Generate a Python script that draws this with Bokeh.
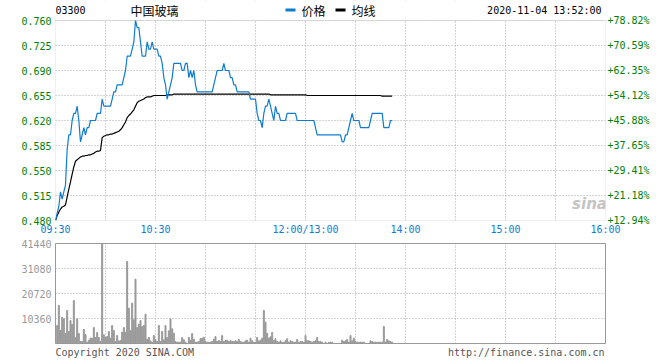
from bokeh.plotting import figure
from bokeh.models import (Range1d, LinearAxis, FixedTicker, Label, PrintfTickFormatter,
                          BoxAnnotation)
from bokeh.core.properties import value
from bokeh.layouts import column
from bokeh.embed import file_html
from bokeh.resources import INLINE

# ---------------- data ----------------
stock_code = "03300"
stock_name = "中国玻璃"
timestamp = "2020-11-04 13:52:00"
prev_close = 0.425
session_minutes = 330
time_ticks = [0, 60, 150, 210, 270, 330]
time_labels = ["09:30", "10:30", "12:00/13:00", "14:00", "15:00", "16:00"]
legend_labels = ["价格", "均线"]
copyright_text = "Copyright 2020 SINA.COM"
url_text = "http://finance.sina.com.cn"

price = [
    0.48, 0.49, 0.50, 0.52, 0.51, 0.52, 0.53, 0.58, 0.60, 0.60,
    0.62, 0.63, 0.63, 0.64, 0.62, 0.59, 0.60, 0.61, 0.60, 0.61,
    0.61, 0.62, 0.62, 0.62, 0.62, 0.63, 0.63, 0.63, 0.65, 0.64,
    0.64, 0.64, 0.64, 0.64, 0.65, 0.66, 0.66, 0.67, 0.67, 0.67,
    0.67, 0.68, 0.69, 0.71, 0.71, 0.71, 0.72, 0.73, 0.76, 0.75,
    0.75, 0.73, 0.71, 0.71, 0.71, 0.73, 0.72, 0.72, 0.73, 0.72,
    0.72, 0.72, 0.71, 0.71, 0.70, 0.68, 0.67, 0.65, 0.66, 0.67,
    0.68, 0.70, 0.70, 0.70, 0.70, 0.70, 0.69, 0.69, 0.70, 0.70,
    0.68, 0.69, 0.68, 0.69, 0.67, 0.66, 0.66, 0.66, 0.66, 0.66,
    0.66, 0.66, 0.66, 0.66, 0.66, 0.67, 0.68, 0.69, 0.69, 0.69,
    0.69, 0.70, 0.69, 0.69, 0.69, 0.68, 0.68, 0.67, 0.67, 0.66,
    0.66, 0.66, 0.66, 0.66, 0.66, 0.66, 0.66, 0.65, 0.65, 0.65,
    0.65, 0.63, 0.62, 0.62, 0.61, 0.63, 0.64, 0.64, 0.65, 0.64,
    0.63, 0.62, 0.64, 0.63, 0.63, 0.62, 0.62, 0.62, 0.62, 0.63,
    0.63, 0.63, 0.63, 0.63, 0.63, 0.62, 0.62, 0.62, 0.62, 0.62,
    0.62, 0.62, 0.62, 0.62, 0.62, 0.62, 0.61, 0.60, 0.60, 0.60,
    0.60, 0.60, 0.60, 0.60, 0.60, 0.60, 0.60, 0.60, 0.60, 0.60,
    0.60, 0.60, 0.59, 0.59, 0.60, 0.60, 0.61, 0.62, 0.63, 0.62,
    0.62, 0.62, 0.62, 0.61, 0.61, 0.61, 0.61, 0.61, 0.61, 0.62,
    0.63, 0.63, 0.63, 0.63, 0.63, 0.63, 0.63, 0.61, 0.61, 0.61,
    0.61, 0.62, 0.62,
]

avg_price = [
    0.480, 0.487, 0.492, 0.496, 0.499, 0.500, 0.502, 0.513, 0.524, 0.534,
    0.545, 0.555, 0.563, 0.565, 0.567, 0.569, 0.570, 0.570, 0.571, 0.571,
    0.572, 0.572, 0.573, 0.574, 0.576, 0.577, 0.577, 0.578, 0.596, 0.598,
    0.599, 0.600, 0.600, 0.601, 0.601, 0.602, 0.603, 0.604, 0.605, 0.607,
    0.610, 0.614, 0.618, 0.624, 0.627, 0.629, 0.632, 0.635, 0.640, 0.645,
    0.647, 0.648, 0.649, 0.650, 0.652, 0.653, 0.653, 0.653, 0.654, 0.655,
    0.655, 0.655, 0.655, 0.655, 0.655, 0.655, 0.655, 0.656, 0.656, 0.656,
    0.656, 0.657, 0.657, 0.657, 0.657, 0.657, 0.657, 0.657, 0.657, 0.657,
    0.657, 0.657, 0.657, 0.657, 0.657, 0.657, 0.657, 0.657, 0.657, 0.657,
    0.657, 0.657, 0.657, 0.657, 0.657, 0.657, 0.657, 0.657, 0.657, 0.657,
    0.657, 0.657, 0.657, 0.657, 0.657, 0.657, 0.657, 0.657, 0.657, 0.657,
    0.657, 0.657, 0.657, 0.657, 0.657, 0.657, 0.657, 0.657, 0.657, 0.657,
    0.657, 0.657, 0.657, 0.657, 0.657, 0.657, 0.657, 0.657, 0.657, 0.656,
    0.656, 0.656, 0.656, 0.656, 0.656, 0.656, 0.656, 0.656, 0.656, 0.656,
    0.656, 0.656, 0.656, 0.656, 0.656, 0.656, 0.656, 0.656, 0.656, 0.656,
    0.656, 0.655, 0.655, 0.655, 0.655, 0.655, 0.655, 0.655, 0.655, 0.655,
    0.655, 0.655, 0.655, 0.655, 0.655, 0.655, 0.655, 0.655, 0.655, 0.655,
    0.655, 0.655, 0.655, 0.655, 0.655, 0.655, 0.655, 0.655, 0.655, 0.655,
    0.655, 0.655, 0.655, 0.655, 0.655, 0.655, 0.655, 0.655, 0.655, 0.655,
    0.655, 0.655, 0.655, 0.655, 0.655, 0.655, 0.654, 0.654, 0.654, 0.654,
    0.654, 0.654, 0.654,
]

volume = [
    0,
    7460, 15750, 5390, 10770, 10220, 4140, 13680, 4970, 9530, 7870,
    17820, 2350, 10220, 4140, 830, 830, 5800, 3730, 550, 1380,
    2210, 2210, 6630, 2490, 4560, 2490, 830, 41440, 3590, 2490,
    2900, 4970, 2210, 7460, 5390, 830, 3310, 1100, 1240, 4700,
    6630, 4700, 33980, 14640, 5250, 16710, 9810, 26660, 6630, 8010,
    9530, 7040, 7460, 12160, 1800, 2490, 1100, 550, 3310, 1520,
    830, 7460, 830, 4970, 1520, 7460, 2490, 5250, 10220, 6080,
    4280, 830, 550, 550, 550, 2490, 1520, 550, 0, 2490,
    1240, 4140, 1800, 550, 550, 830, 2070, 2210, 2620, 830,
    550, 550, 550, 830, 1800, 2900, 830, 1240, 830, 3310,
    830, 1240, 1380, 830, 1240, 830, 830, 1100, 830, 1660,
    830, 550, 550, 1100, 1380, 550, 2210, 1100, 550, 550,
    2490, 1100, 1380, 2210, 13680, 8840, 4280, 2210, 2760, 4560,
    1240, 1930, 830, 550, 1100, 550, 550, 1100, 1930, 550,
    1100, 830, 550, 550, 1660, 550, 830, 830, 550, 3310,
    1240, 1100, 830, 550, 830, 1100, 2490, 830, 830, 550,
    0, 550, 0, 550, 550, 550, 0, 0, 0, 0,
    0, 1380, 830, 1100, 1660, 550, 3310, 1100, 2210, 830,
    550, 550, 550, 550, 550, 0, 0, 0, 1100, 830,
    550, 550, 550, 550, 550, 550, 7040, 550, 1660, 1100,
    830, 550,
]

minutes = list(range(len(price)))

# ---------------- style ----------------
MONO = "DejaVu Sans Mono"
CJK = "Noto Sans CJK SC"
BLUE = "#0f7ccf"
GREEN = "#008000"
GRAY_TXT = "#999999"
GRID = "#a8a8a8"
BORDER = "#999999"
BAR = "#999999"

pmin, pmax = min(price), max(price)
pstep = (pmax - pmin) / 8
price_ticks = [pmin + i * pstep for i in range(9)]
pct_min = (pmin / prev_close - 1) * 100
pct_max = (pmax / prev_close - 1) * 100
vmax = max(volume)
vol_ticks = [vmax * i / 4 for i in range(1, 5)]
grid_x = list(range(0, session_minutes + 1, 30))

FW, FH1, FH2 = 550, 200, 100
LEFT, RIGHT = 55, 55
HDR = 20          # header band (px) kept inside the price figure's frame
FOOT_H = 19

upp = (pmax - pmin) / FH1          # price units per pixel
ytop = pmax + HDR * upp            # frame top includes header band
pct_top = (ytop / prev_close - 1) * 100
pct_ticks = [(t / prev_close - 1) * 100 for t in price_ticks]


def sx(img_x):
    # page pixel -> minute index (layout helper for header items)
    return (img_x - LEFT) * session_minutes / FW


def style_axis(ax, color):
    ax.axis_line_color = None
    ax.major_tick_line_color = None
    ax.minor_tick_line_color = None
    ax.major_tick_out = 0
    ax.major_tick_in = 0
    ax.major_label_text_font = MONO
    ax.major_label_text_font_size = "10px"
    ax.major_label_text_color = color


def style_grid(g):
    g.grid_line_color = GRID
    g.grid_line_dash = "1 2"
    g.grid_line_width = 1


# ---------------- price chart (with header band) ----------------
p = figure(frame_width=FW, frame_height=FH1 + HDR, output_backend="svg", toolbar_location=None,
           x_range=Range1d(0, session_minutes), y_range=Range1d(pmin, ytop),
           min_border_left=LEFT, min_border_right=RIGHT, min_border_top=0,
           min_border_bottom=14)
p.background_fill_color = "white"
p.border_fill_color = "white"
p.outline_line_color = None

p.xaxis.ticker = FixedTicker(ticks=time_ticks)
p.xaxis.major_label_overrides = {t: l for t, l in zip(time_ticks, time_labels)}
style_axis(p.xaxis[0], BLUE)
p.xaxis.major_label_standoff = 3

p.yaxis.ticker = FixedTicker(ticks=price_ticks)
p.yaxis.formatter = PrintfTickFormatter(format="%.3f")
style_axis(p.yaxis[0], GREEN)
p.yaxis.major_label_standoff = 4

p.extra_y_ranges = {"pct": Range1d(pct_min, pct_top)}
ax_r = LinearAxis(y_range_name="pct", ticker=FixedTicker(ticks=pct_ticks),
                  formatter=PrintfTickFormatter(format="+%.2f%%"))
style_axis(ax_r, GREEN)
ax_r.major_label_standoff = 2
p.add_layout(ax_r, "right")

p.xgrid.ticker = FixedTicker(ticks=grid_x)
p.ygrid.ticker = FixedTicker(ticks=price_ticks)
style_grid(p.xgrid[0])
style_grid(p.ygrid[0])

# blank the header band (hides grid there) and draw the chart border
p.add_layout(BoxAnnotation(bottom=pmax, fill_color="white", fill_alpha=1,
                           line_color=None, level="underlay"))
p.add_layout(BoxAnnotation(left=0, right=session_minutes, bottom=pmin, top=pmax,
                           fill_alpha=0, line_color=BORDER, line_width=1, level="underlay"))

p.line(minutes, avg_price, line_color="black", line_width=1.2)
p.line(minutes, price, line_color=BLUE, line_width=1.2)

# header items
hy = pmax + (HDR - 9.5) * upp
p.text(x=[sx(55)], y=[hy], text=[stock_code], text_font=value(MONO), text_font_size="10px",
       text_baseline="middle", text_align="left", text_color="black")
p.text(x=[sx(130)], y=[hy], text=[stock_name], text_font=value(CJK), text_font_size="12px",
       text_baseline="middle", text_align="left", text_color="black")
p.segment(x0=[sx(285), sx(335)], y0=[hy, hy], x1=[sx(295), sx(345)], y1=[hy, hy],
          line_color=[BLUE, "black"], line_width=3)
p.text(x=[sx(301), sx(351)], y=[hy, hy], text=legend_labels, text_font=value(CJK),
       text_font_size="12px", text_baseline="middle", text_align="left", text_color="black")
p.text(x=[sx(601)], y=[hy], text=[timestamp], text_font=value(MONO), text_font_size="10px",
       text_baseline="middle", text_align="right", text_color="black")

# watermark
p.add_layout(Label(x=sx(589), y=pmax - (203 - 20) * upp,
                   text="sina", text_font="DejaVu Sans",
                   text_font_style="bold italic", text_font_size="15px",
                   text_baseline="middle", text_align="center", text_color="#c4c4c4"))

# ---------------- volume chart ----------------
p2 = figure(frame_width=FW, frame_height=FH2, output_backend="svg", toolbar_location=None,
            x_range=p.x_range, y_range=Range1d(0, vmax),
            min_border_left=LEFT, min_border_right=RIGHT, min_border_top=6, min_border_bottom=1)
p2.background_fill_color = "white"
p2.border_fill_color = "white"
p2.outline_line_color = BORDER
p2.outline_line_width = 1
p2.xaxis.visible = False
p2.yaxis.ticker = FixedTicker(ticks=vol_ticks)
p2.yaxis.formatter = PrintfTickFormatter(format="%d")
style_axis(p2.yaxis[0], GRAY_TXT)
p2.yaxis.major_label_standoff = 4
p2.xgrid.ticker = FixedTicker(ticks=grid_x)
p2.ygrid.ticker = FixedTicker(ticks=vol_ticks)
style_grid(p2.xgrid[0])
style_grid(p2.ygrid[0])

p2.vbar(x=minutes, top=volume, width=0.6, color=BAR)

# ---------------- footer strip ----------------
ftr = figure(frame_width=FW, frame_height=FOOT_H, output_backend="svg", toolbar_location=None,
             x_range=Range1d(LEFT, LEFT + FW), y_range=Range1d(FOOT_H, 0),
             x_axis_location=None, y_axis_location=None,
             min_border_left=LEFT, min_border_right=RIGHT, min_border_top=0, min_border_bottom=0)
ftr.outline_line_color = None
ftr.grid.visible = False
ftr.background_fill_color = "white"
ftr.border_fill_color = "white"
fy = 8
ftr.text(x=[LEFT], y=[fy], text=[copyright_text], text_font=value(MONO), text_font_size="10px",
         text_baseline="middle", text_align="left", text_color="#555555")
ftr.text(x=[604], y=[fy], text=[url_text], text_font=value(MONO), text_font_size="10px",
         text_baseline="middle", text_align="right", text_color="#555555")

layout = column(p, p2, ftr, spacing=0)
open("out.html", "w").write(file_html(layout, INLINE))
